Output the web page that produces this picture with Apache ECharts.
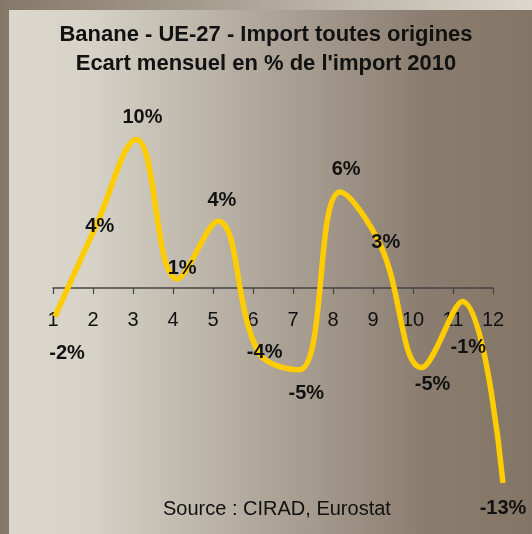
<!DOCTYPE html>
<html lang="fr">
<head>
    <meta charset="UTF-8">
    <title>Banane - UE-27</title>
    <script src="https://cdn.jsdelivr.net/npm/echarts@6/dist/echarts.min.js"></script>
    <style>
        *{
            padding:0;
            margin:0;
        }
        html,body{
            height:100%;
        }
        #main{
            width:532px;
            height:534px;
        }
    </style>
</head>
<body>
<div id="main"></div>
<script>
    // mois et écart en % vs 2010
    var months = ['1','2','3','4','5','6','7','8','9','10','11','12'];
    var ecart = [-1.9, 4.1, 9.9, 0.6, 4.45, -4.3, -5.45, 6.4, 2.8, -5.3, -0.9, -13.0];
    // décalage des étiquettes (style)
    var labelOffsets = [[12,37],[4,0],[6,-22],[5,-11],[4,-21],[6,0],[7,24],[6,-23],[5,-4],[11,17],[6,46],[0,25]];

    var font = '"Liberation Sans", Arial, sans-serif';
    var myChart = echarts.init(document.getElementById('main'));

    var seriesData = ecart.map(function (v, i) {
        return {
            value: v,
            label: {offset: labelOffsets[i]}
        };
    });

    option = {
        backgroundColor: new echarts.graphic.LinearGradient(0, 0, 1, 0, [
            {offset: 0, color: '#857868'},
            {offset: 1, color: '#dcd8ce'}
        ]),
        graphic: [{
            type: 'rect',
            z: -1,
            shape: {x: 9, y: 10, width: 523, height: 524},
            style: {
                fill: new echarts.graphic.LinearGradient(0, 0, 1, 0, [
                    {offset: 0, color: '#dbd7cc'},
                    {offset: 0.15, color: '#d7d3c8'},
                    {offset: 0.8, color: '#8a7d6f'},
                    {offset: 1, color: '#847666'}
                ])
            }
        }],
        title: [{
            text: "Banane - UE-27 - Import toutes origines\nEcart mensuel en % de l'import 2010",
            left: 'center',
            top: 15,
            textStyle: {
                fontFamily: font,
                fontSize: 22,
                fontWeight: 'bold',
                color: '#111',
                lineHeight: 29
            }
        }, {
            text: 'Source : CIRAD, Eurostat',
            left: 158,
            top: 494,
            textStyle: {
                fontFamily: font,
                fontSize: 20,
                fontWeight: 'normal',
                color: '#111'
            }
        }],
        grid: [
            // axe visible : bord bas = zéro
            {left: 53, right: 39, top: 108, bottom: 246},
            {left: 55, right: 29, top: 108, bottom: 21}
        ],
        xAxis: [{
            gridIndex: 0,
            type: 'category',
            data: months,
            boundaryGap: false,
            axisLine: {onZero: false, lineStyle: {color: '#444', width: 1.5}},
            axisTick: {show: true, inside: false, length: 6, lineStyle: {color: '#444', width: 1.2}},
            axisLabel: {fontFamily: font, fontSize: 20, color: '#111', margin: 22}
        }, {
            gridIndex: 1,
            type: 'category',
            data: months,
            boundaryGap: false,
            show: false
        }],
        yAxis: [{
            gridIndex: 0,
            type: 'value',
            min: 0,
            max: 12,
            show: false
        }, {
            gridIndex: 1,
            type: 'value',
            min: -15,
            max: 12,
            show: false
        }],
        series: [{
            type: 'line',
            xAxisIndex: 1,
            yAxisIndex: 1,
            data: seriesData,
            smooth: 0.4,
            symbol: 'circle',
            symbolSize: 2,
            itemStyle: {color: 'rgba(0,0,0,0)'},
            lineStyle: {color: '#ffcc00', width: 5.5},
            label: {
                show: true,
                position: 'inside',
                fontFamily: font,
                fontSize: 20,
                fontWeight: 'bold',
                color: '#111',
                formatter: function (p) {
                    return Math.round(p.value) + '%';
                }
            },
            emphasis: {disabled: true},
            animation: false
        }]
    };
    myChart.setOption(option);
</script>
</body>
</html>
